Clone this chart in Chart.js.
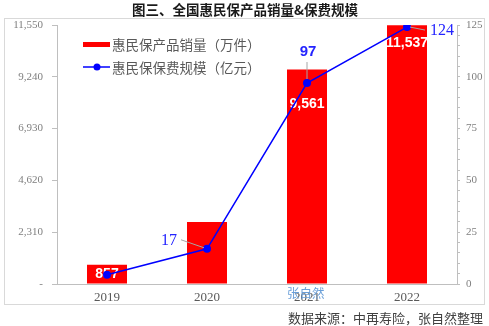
<!DOCTYPE html>
<html>
<head>
<meta charset="utf-8">
<script src="https://cdn.jsdelivr.net/npm/chart.js@4/dist/chart.umd.min.js"></script>
<style>
    html, body { margin: 0; padding: 0; background: #fff; }
    #wrap { width: 489px; height: 326px; }
</style>
</head>
<body>
<div id="wrap"><canvas id="chart"></canvas></div>
<script>
// 数据
const years = ['2019', '2020', '2021', '2022'];
const salesVolume = [857, 2765, 9561, 11537];     // 惠民保产品销量（万件）
const premiumScale = [4.5, 17, 97, 124];          // 惠民保保费规模（亿元）
const premiumLabels = [null, '17', '97', '124'];
const leftTicks = [0, 2310, 4620, 6930, 9240, 11550];
const rightTicks = [0, 25, 50, 75, 100, 125];

const seriesNames = ['惠民保产品销量（万件）', '惠民保保费规模（亿元）'];
const titleText = '图三、全国惠民保产品销量&保费规模';
const sourceText = '数据来源：中再寿险，张自然整理';
const markText = '张自然';

// 标签摆放（相对柱顶 / 数据点）
const barLabelDy = [null, null, 35, 18];
const lineLabelPos = [null, { dx: -38, dy: -8, lx: [-26, -3], ly: [-9, -1] },
                      { dx: 1, dy: -31, lx: [0, 0], ly: [-21, -4] },
                      { dx: 35, dy: 4, lx: [3, 18], ly: [0, 3] }];

const fmt = v => v === 0 ? '-' : v.toLocaleString('en-US');

const decor = {
    id: 'decor',
    beforeDraw(chart) {
        const ctx = chart.ctx;
        ctx.save();
        ctx.fillStyle = '#fff';
        ctx.fillRect(0, 0, chart.width, chart.height);
        ctx.strokeStyle = '#d9d9d9';
        ctx.lineWidth = 1;
        ctx.strokeRect(4.5, 18.5, 480, 286);
        ctx.restore();
    },
    afterDatasetDraw(chart, args) {
        if (args.index !== 0) return;
        const ctx = chart.ctx;
        ctx.save();
        ctx.fillStyle = '#fff';
        ctx.font = 'bold 14px "Liberation Sans", Arial';
        ctx.textAlign = 'center';
        ctx.textBaseline = 'middle';
        args.meta.data.forEach((bar, i) => {
            if (i === 1) return;
            const y = barLabelDy[i] == null ? (bar.y + bar.base) / 2 : bar.y + barLabelDy[i];
            ctx.fillText(fmt(salesVolume[i]), bar.x, y);
        });
        ctx.restore();
    },
    afterDraw(chart) {
        const ctx = chart.ctx;
        ctx.save();

        // 折线数据标签 + 引导线
        const pts = chart.getDatasetMeta(1).data;
        pts.forEach((p, i) => {
            const pos = lineLabelPos[i];
            if (!pos) return;
            ctx.strokeStyle = '#a6a6a6';
            ctx.lineWidth = 1;
            ctx.beginPath();
            ctx.moveTo(p.x + pos.lx[0], p.y + pos.ly[0]);
            ctx.lineTo(p.x + pos.lx[1], p.y + pos.ly[1]);
            ctx.stroke();
            ctx.fillStyle = '#2424ff';
            ctx.font = i === 2 ? 'bold 15px "Liberation Sans", Arial' : '16px "Liberation Serif", serif';
            ctx.textAlign = 'center';
            ctx.textBaseline = 'middle';
            ctx.fillText(premiumLabels[i], p.x + pos.dx, p.y + pos.dy);
        });

        // 标题
        ctx.fillStyle = '#1a1a1a';
        ctx.font = 'bold 13.5px "Noto Sans CJK SC"';
        ctx.textAlign = 'center';
        ctx.textBaseline = 'middle';
        ctx.fillText(titleText, 245, 10);

        // 图例
        ctx.textAlign = 'left';
        ctx.font = '13.5px "Noto Sans CJK SC"';
        ctx.fillStyle = '#ff0000';
        ctx.fillRect(83, 42, 27, 5);
        ctx.strokeStyle = '#0000ff';
        ctx.lineWidth = 1.5;
        ctx.beginPath();
        ctx.moveTo(83, 67);
        ctx.lineTo(110, 67);
        ctx.stroke();
        ctx.fillStyle = '#0000ff';
        ctx.beginPath();
        ctx.arc(97, 67, 3.5, 0, Math.PI * 2);
        ctx.fill();
        ctx.fillStyle = '#595959';
        ctx.fillText(seriesNames[0], 112, 45);
        ctx.fillText(seriesNames[1], 112, 68);

        // 水印
        ctx.fillStyle = '#6a9fd8';
        ctx.font = '12.5px "Noto Sans CJK SC"';
        ctx.fillText(markText, 287, 293);

        // 数据来源
        ctx.fillStyle = '#404040';
        ctx.font = '13px "Noto Sans CJK SC"';
        ctx.textAlign = 'right';
        ctx.fillText(sourceText, 483, 318);
        ctx.restore();
    }
};

new Chart(document.getElementById('chart'), {
    data: {
        labels: years,
        datasets: [
            {
                type: 'bar',
                label: seriesNames[0],
                data: salesVolume,
                backgroundColor: '#ff0000',
                yAxisID: 'y',
                order: 2,
                categoryPercentage: 1,
                barPercentage: 0.4
            },
            {
                type: 'line',
                label: seriesNames[1],
                data: premiumScale,
                borderColor: '#0000ff',
                backgroundColor: '#0000ff',
                borderWidth: 1.5,
                pointRadius: 4,
                pointBackgroundColor: '#0000ff',
                pointBorderWidth: 0,
                tension: 0,
                yAxisID: 'y1',
                order: 1
            }
        ]
    },
    options: {
        responsive: true,
        maintainAspectRatio: false,
        animation: false,
        layout: { padding: { top: 25, left: 0, right: 0, bottom: 0 } },
        plugins: { legend: { display: false }, title: { display: false }, tooltip: { enabled: false } },
        scales: {
            x: {
                grid: { display: false, drawTicks: false },
                border: { color: '#bfbfbf', width: 1 },
                ticks: { color: '#595959', font: { family: '"Liberation Serif", serif', size: 13 }, padding: 6 },
                afterFit: s => { s.height = 42; }
            },
            y: {
                position: 'left',
                min: 0,
                max: 11550,
                afterBuildTicks: s => { s.ticks = leftTicks.map(v => ({ value: v })); },
                grid: { drawOnChartArea: false, tickLength: 5, tickColor: '#bfbfbf' },
                border: { color: '#bfbfbf', width: 1 },
                ticks: {
                    color: '#7f7f7f',
                    font: { family: '"Liberation Serif", serif', size: 11 },
                    padding: 9,
                    callback: v => fmt(v)
                },
                afterFit: s => { s.width = 57; }
            },
            y1: {
                position: 'right',
                min: 0,
                max: 125,
                afterBuildTicks: s => {
                    const t = [];
                    for (let v = 0; v <= 125; v += 5) t.push({ value: v });
                    s.ticks = t;
                },
                grid: { drawOnChartArea: false, tickLength: 3, tickColor: '#bfbfbf' },
                border: { color: '#bfbfbf', width: 1 },
                ticks: {
                    autoSkip: false,
                    color: '#7f7f7f',
                    font: { family: '"Liberation Serif", serif', size: 11 },
                    padding: 6,
                    callback: v => rightTicks.includes(v) ? String(v) : ''
                },
                afterFit: s => { s.width = 32; }
            }
        }
    },
    plugins: [decor]
});
</script>
</body>
</html>
